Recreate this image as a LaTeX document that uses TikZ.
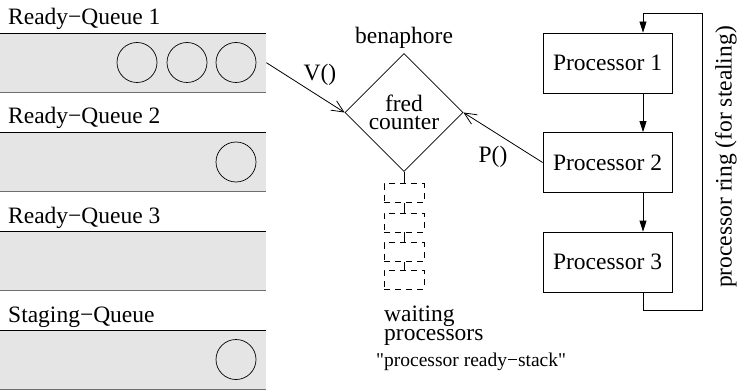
\documentclass[tikz,border=0pt]{standalone}
\usepackage{fontspec}
\setmainfont{Liberation Serif}[Ligatures=TeXOff]
\usetikzlibrary{shapes.geometric,arrows.meta,positioning}
\definecolor{qfill}{HTML}{E5E5E5}
\definecolor{qedge}{HTML}{6E6E6E}
\newcommand\tightls{\lineskiplimit-50pt\relax}
\tikzset{
  every node/.style={font={\fontsize{23.5}{18.5}\selectfont\tightls}, inner sep=0pt},
  queue/.style={rectangle, fill=qfill, minimum width=266pt, minimum height=59pt, anchor=north west},
  item/.style={circle, draw, line width=0.7pt, minimum size=40pt},
  proc/.style={rectangle, draw, line width=0.8pt, minimum width=129pt, minimum height=60pt},
  wbox/.style={rectangle, draw, line width=0.8pt, dash pattern=on 6pt off 5pt, minimum width=40pt, minimum height=19pt},
  openarrow/.style={line width=0.8pt, -{Straight Barb[length=12pt,width=11pt,line width=0.8pt]}},
  ringarrow/.style={line width=0.8pt, -{Triangle[length=11pt,width=7pt]}},
  qlabel/.style={anchor=base west},
}
\begin{document}
\begin{tikzpicture}[x=1pt,y=-1pt]
\useasboundingbox (0,0) rectangle (738,390);
% queues
\foreach \n/\y/\t in {q1/33/Ready−Queue 1, q2/132/Ready−Queue 2, q3/231/Ready−Queue 3, qs/330/Staging−Queue}{
  \node[queue] (\n) at (0,\y) {};
  \draw[line width=0.7pt] (\n.north west) -- (\n.north east);
  \draw[qedge, line width=1.6pt] (\n.south west) -- (\n.south east);
  \node[qlabel] (\n lab) at (8,\y-8) {\t};
}
% items
\node[item] (c11) at (137,62.5) {};
\node[item] (c12) at (187,62.5) {};
\node[item] (c13) at (236,62.5) {};
\node[item] (c2) at (236,162) {};
\node[item] (cs) at (236,359.5) {};
% semaphore
\node[diamond, draw, line width=0.8pt, minimum width=118pt, minimum height=118pt, align=center] (sem) at (404,112.5) {fred\\counter};
\node (benlab) at (404,38) {benaphore};
% processors
\node[proc] (p1) at (607.5,63) {Processor 1};
\node[proc] (p2) at (607.5,162.5) {Processor 2};
\node[proc] (p3) at (607.5,262) {Processor 3};
\coordinate (rx) at (643,0);
\coordinate (rbl) at (643,310);
\coordinate (rbr) at (702,310);
\coordinate (rtr) at (702,13);
\coordinate (rtl) at (643,13);
\draw[ringarrow] (p1.south -| rx) -- (p2.north -| rx);
\draw[ringarrow] (p2.south -| rx) -- (p3.north -| rx);
\draw[ringarrow] (p3.south -| rx) -- (rbl) -- (rbr) -- (rtr) -- (rtl) -- (p1.north -| rx);
\node[rotate=90] (ringlab) at (726,157) {processor ring (for stealing)};
% V and P
\draw[openarrow] (q1.east) -- (sem.west);
\node (vlab) at (320,75) {V()};
\draw[openarrow] (p2.west) -- (sem.east);
\node (plab) at (493,157) {P()};
% waiting stack
\node[wbox] (w1) at (404,193) {};
\node[wbox] (w2) at (404,222.5) {};
\node[wbox] (w3) at (404,252) {};
\node[wbox] (w4) at (404,279.5) {};
\draw[line width=0.8pt] (sem.south) -- (w1.north);
\draw[line width=0.8pt] (w1.south) -- (w2.north);
\draw[line width=0.8pt] (w2.south) -- (w3.north);
\draw[line width=0.8pt] (w3.south) -- (w4.north);
\node[align=left, anchor=base west] (wlab) at (384,340) {waiting\\processors};
\node[anchor=base west, font={\fontsize{19.5}{22}\selectfont}] (rslab) at (376,366) {"processor ready−stack"};
\end{tikzpicture}
\end{document}
